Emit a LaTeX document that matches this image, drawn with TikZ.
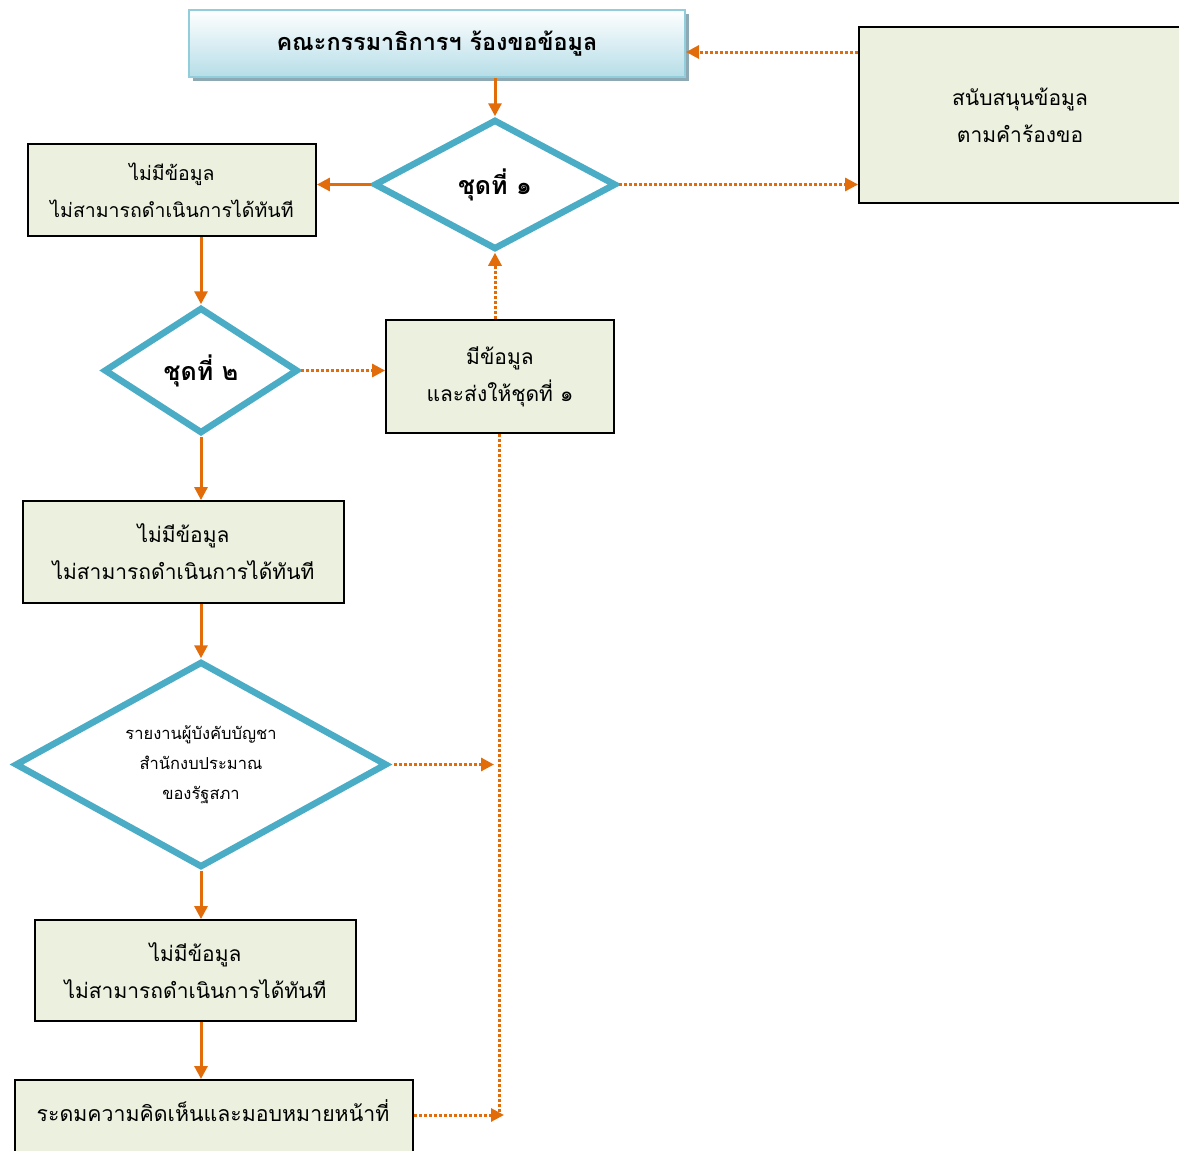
\documentclass[tikz,border=0pt]{standalone}
\usepackage{fontspec}
\newfontfamily\thai[Script=Thai]{Loma}
\usetikzlibrary{shapes.geometric,arrows.meta,shadings}
\definecolor{orng}{HTML}{E36C0A}
\definecolor{dblue}{HTML}{4BACC6}
\definecolor{gfill}{HTML}{EBF1DE}
\definecolor{tborder}{HTML}{92CDDC}
\definecolor{tshade}{HTML}{B6DDE8}
\definecolor{tshadow}{HTML}{8DA9B4}
\tikzset{
  box/.style={draw=black, line width=1.8pt, fill=gfill, inner sep=0pt, align=center,
    font=\thai\fontsize{21}{37}\selectfont},
  dia/.style={diamond, draw=dblue, line width=6.5pt, fill=white, inner sep=0pt, align=center},
  solidarrow/.style={draw=orng, line width=3pt, -{Triangle[length=13pt,width=13pt]}},
  dotarrow/.style={draw=orng, line width=3pt, dash pattern=on 2.8pt off 2.2pt, -{Triangle[length=13pt,width=13pt]}},
  dotline/.style={draw=orng, line width=3pt, dash pattern=on 2.8pt off 2.2pt},
}
\begin{document}
\begin{tikzpicture}[x=1pt,y=-1pt]
\useasboundingbox (0,0) rectangle (1179,1151);
\clip (0,0) rectangle (1179,1151);
% top box with shadow
\fill[tshadow] (193,14) rectangle (689,81);
\node[draw=tborder, line width=2pt, top color=white, bottom color=tshade, inner sep=0pt,
  minimum width=496, minimum height=67, font=\thai\bfseries\fontsize{23.4}{28}\selectfont] (top) at (437,43.5) {คณะกรรมาธิการฯ ร้องขอข้อมูล};
% right box
\node[box, minimum width=322, minimum height=176] (rbox) at (1020,115) {สนับสนุนข้อมูล\\ตามคำร้องขอ};
% diamonds
\node[dia, minimum width=242, minimum height=130, font=\thai\bfseries\fontsize{25}{30}\selectfont] (d1) at (495,184.5) {ชุดที่ ๑};
\node[dia, minimum width=194, minimum height=126, font=\thai\bfseries\fontsize{25}{30}\selectfont] (d2) at (201,370.5) {ชุดที่ ๒};
\node[dia, aspect=2, minimum width=372, minimum height=206, font=\thai\fontsize{16.5}{30}\selectfont] (d3) at (201,764.5) {รายงานผู้บังคับบัญชา\\สำนักงบประมาณ\\ของรัฐสภา};
% boxes
\node[box, minimum width=288, minimum height=92, font=\thai\fontsize{19.5}{37}\selectfont] (b1) at (172,190) {ไม่มีข้อมูล\\ไม่สามารถดำเนินการได้ทันที};
\node[box, minimum width=228, minimum height=113] (mid) at (500,376.5) {มีข้อมูล\\และส่งให้ชุดที่ ๑};
\node[box, minimum width=321, minimum height=102] (b2) at (183.5,552) {ไม่มีข้อมูล\\ไม่สามารถดำเนินการได้ทันที};
\node[box, minimum width=321, minimum height=101] (b3) at (195.5,970.5) {ไม่มีข้อมูล\\ไม่สามารถดำเนินการได้ทันที};
\node[box, minimum width=398, minimum height=82, anchor=north west] (bot) at (14,1079) {};
\node[font=\thai\fontsize{21.3}{26}\selectfont, inner sep=0pt] (bottxt) at (213,1111) {ระดมความคิดเห็นและมอบหมายหน้าที่};
% coordinates
\coordinate (ya) at (0,52);
\coordinate (yb) at (0,1115);
\coordinate (vend) at (499,1113);
% solid connectors
\draw[solidarrow] (top.south -| d1.north) -- (d1.north);
\draw[solidarrow] (d1.west) -- (d1.west -| b1.east);
\draw[solidarrow] (b1.south -| d2.north) -- (d2.north);
\draw[solidarrow] (d2.south) -- (d2.south |- b2.north);
\draw[solidarrow] (b2.south -| d3.north) -- (d3.north);
\draw[solidarrow] (d3.south) -- (d3.south |- b3.north);
\draw[solidarrow] (b3.south -| d3.south) -- (d3.south |- bot.north);
% dotted connectors
\draw[dotarrow] (rbox.west |- ya) -- (top.east |- ya);
\draw[dotarrow] (d1.east) -- (d1.east -| rbox.west);
\draw[dotarrow] (d2.east) -- (d2.east -| mid.west);
\draw[dotarrow] (d1.south |- mid.north) -- (d1.south);
\draw[dotline] (mid.south -| vend) -- (vend);
\draw[dotarrow, shorten <=4pt] (d3.east) -- (494,764.5);
\draw[dotarrow] (bot.east |- yb) -- (504,1115);
\end{tikzpicture}
\end{document}
